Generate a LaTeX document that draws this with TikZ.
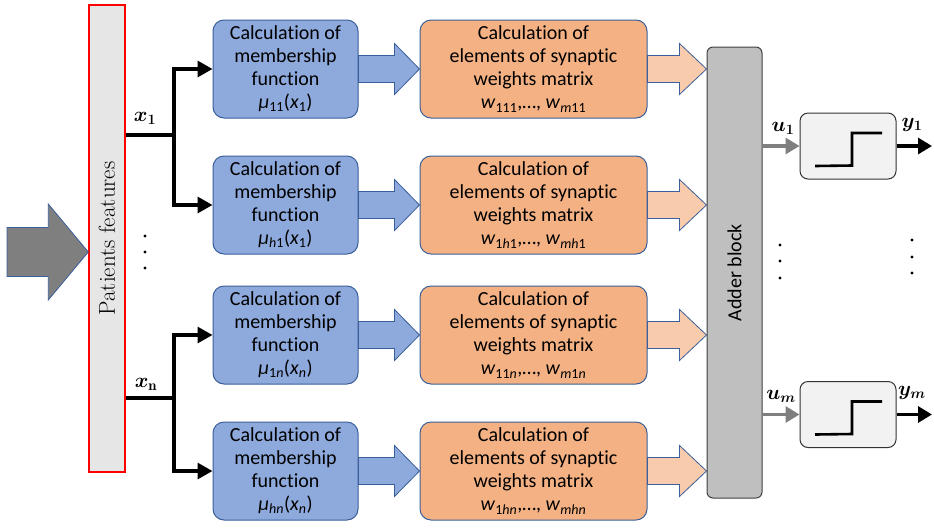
\documentclass[tikz,border=0pt]{standalone}
\usepackage{fontspec}
\usepackage{amsmath,bm}
\newfontfamily\calibri[Ligatures={NoCommon,NoContextual}]{Carlito}
\usetikzlibrary{arrows.meta,calc}
\definecolor{memblue}{HTML}{8EA9DB}
\definecolor{bordblue}{HTML}{3A5F9A}
\definecolor{synorange}{HTML}{F4B183}
\definecolor{lightorange}{HTML}{F8CBAD}
\definecolor{addergray}{HTML}{BFBFBF}
\definecolor{bargray}{HTML}{E7E6E6}
\definecolor{arrgray}{HTML}{7F7F7F}
\definecolor{outfill}{HTML}{F2F2F2}
% block arrow: #1 style, #2 start coord, #3 tip coord, #4 half body, #5 half head, #6 head length
\newcommand\myblkarrow[6]{%
  \filldraw[#1] ($(#2)+(0,-#4)$) -- ($(#3)+(-#6,-#4)$) -- ($(#3)+(-#6,-#5)$) -- (#3)
    -- ($(#3)+(-#6,#5)$) -- ($(#3)+(-#6,#4)$) -- ($(#2)+(0,#4)$) -- cycle;}
\tikzset{
  boxtext/.style={font=\calibri\fontsize{20}{23}\selectfont, align=center, inner sep=0pt},
  memb/.style={boxtext, draw=bordblue, fill=memblue, line width=1pt, rounded corners=11pt,
    minimum width=145pt, minimum height=98pt},
  syn/.style={boxtext, draw=bordblue, fill=synorange, line width=1pt, rounded corners=11pt,
    minimum width=227pt, minimum height=98pt},
  barrow/.style={draw=bordblue, line width=0.8pt, line join=miter},
  conn/.style={line width=3.2pt, draw=black},
  connarr/.style={conn, -{Triangle[length=15pt,width=16pt]}},
  outbox/.style={draw=black!80, fill=outfill, line width=1pt, rounded corners=8pt,
    minimum width=96pt, minimum height=66pt},
  mlab/.style={inner sep=0pt, font=\fontsize{21}{21}\selectfont},
  dotm/.style={fill=black, circle, inner sep=0pt, minimum size=3.2pt},
}
\begin{document}
\begin{tikzpicture}[x=1pt,y=-1pt]
\useasboundingbox (0,0) rectangle (934,531);

% patients features bar
\node[draw=red, fill=bargray, line width=1.4pt, minimum width=36pt, minimum height=467pt,
  inner sep=0pt] (pf) at (107,238.5) {};
\node[rotate=90, inner sep=0pt, font=\fontsize{23}{23}\selectfont] (pftext) at (107,238.5) {Patients features};

% input arrow
\coordinate (inst) at (7,252);
\myblkarrow{barrow, fill=arrgray}{inst}{pf.west |- inst}{24.5}{48}{40}

% membership boxes
\node[memb] (m1) at (285.5,69) {Calculation of\\membership\\function\\{\itshape μ}\textsubscript{11}(\textit{x}\textsubscript{1})};
\node[memb] (m2) at (285.5,205) {Calculation of\\membership\\function\\{\itshape μ}\textsubscript{\textit{h}1}(\textit{x}\textsubscript{1})};
\node[memb] (m3) at (285.5,335) {Calculation of\\membership\\function\\{\itshape μ}\textsubscript{1\textit{n}}(\textit{x}\textsubscript{\textit{n}})};
\node[memb] (m4) at (285.5,471) {Calculation of\\membership\\function\\{\itshape μ}\textsubscript{\textit{hn}}(\textit{x}\textsubscript{\textit{n}})};

% synaptic boxes
\node[syn] (s1) at (533.5,69) {Calculation of\\elements of synaptic\\weights matrix\\\textit{w}\textsubscript{111},…, \textit{w}\textsubscript{\textit{m}11}};
\node[syn] (s2) at (533.5,205) {Calculation of\\elements of synaptic\\weights matrix\\\textit{w}\textsubscript{1\textit{h}1},…, \textit{w}\textsubscript{\textit{mh}1}};
\node[syn] (s3) at (533.5,335) {Calculation of\\elements of synaptic\\weights matrix\\\textit{w}\textsubscript{11\textit{n}},…, \textit{w}\textsubscript{\textit{m}1\textit{n}}};
\node[syn] (s4) at (533.5,471) {Calculation of\\elements of synaptic\\weights matrix\\\textit{w}\textsubscript{1\textit{hn}},…, \textit{w}\textsubscript{\textit{mhn}}};

% adder
\node[draw=black!75, fill=addergray, line width=1pt, rounded corners=6pt,
  minimum width=55pt, minimum height=451pt, inner sep=0pt] (add) at (734.5,272.5) {};
\node[rotate=90, font=\calibri\fontsize{20}{20}\selectfont, inner sep=0pt] (addtext) at (734.5,272.5) {Adder block};

% block arrows
\foreach \i in {1,...,4}{
  \myblkarrow{barrow, fill=memblue}{m\i.east}{s\i.west}{13.5}{25.5}{25}
  \myblkarrow{barrow, fill=lightorange}{s\i.east}{s\i.east -| add.west}{13.5}{25.5}{27}
}

% input connectors
\coordinate (j1) at (174,135);
\coordinate (jn) at (174,398);
\draw[conn] (pf.east |- j1) -- (j1);
\draw[conn] (pf.east |- jn) -- (jn);
\draw[connarr] ([yshift=-1.6pt]j1) |- (m1.west);
\draw[connarr] ([yshift=1.6pt]j1) |- (m2.west);
\draw[connarr] ([yshift=-1.6pt]jn) |- (m3.west);
\draw[connarr] ([yshift=1.6pt]jn) |- (m4.west);
\node[mlab] (lx1) at (145,118) {$\bm{x}_{\bm{1}}$};
\node[mlab] (lxn) at (146,384) {$\bm{x}_{\mathbf{n}}$};

% left dots
\node[dotm] (ld1) at (145,236) {};
\node[dotm] (ld2) at (145,252) {};
\node[dotm] (ld3) at (145,268) {};

% output blocks
\node[outbox] (o1) at (848,146) {};
\node[outbox] (o2) at (848,414.5) {};
\foreach \o in {o1,o2}{
  \draw[line width=2.6pt] ($(\o.center)+(-33,20)$) -- ($(\o.center)+(4,19.5)$) -- ($(\o.center)+(4,-13)$) -- ($(\o.center)+(34,-13)$);
}
\draw[line width=3.2pt, arrgray, -{Triangle[length=14pt,width=16pt]}] (add.east |- o1.west) -- (o1.west);
\draw[line width=3.2pt, arrgray, -{Triangle[length=14pt,width=16pt]}] (add.east |- o2.west) -- (o2.west);
\coordinate (e1) at (932,146);
\coordinate (e2) at (932,414.5);
\draw[line width=3.2pt, -{Triangle[length=14pt,width=16pt]}] (o1.east) -- (e1);
\draw[line width=3.2pt, -{Triangle[length=14pt,width=16pt]}] (o2.east) -- (e2);
\node[mlab] (lu1) at (783,128) {$\bm{u}_{\bm{1}}$};
\node[mlab] (lum) at (781,396) {$\bm{u}_{\bm{m}}$};
\node[mlab] (ly1) at (912,125) {$\bm{y}_{\bm{1}}$};
\node[mlab] (lym) at (912,393) {$\bm{y}_{\bm{m}}$};

% right dots
\node[dotm] (rd1) at (780,245) {};
\node[dotm] (rd2) at (780,261) {};
\node[dotm] (rd3) at (780,278) {};
\node[dotm] (rd4) at (912,240) {};
\node[dotm] (rd5) at (912,257) {};
\node[dotm] (rd6) at (912,273) {};
\end{tikzpicture}
\end{document}
